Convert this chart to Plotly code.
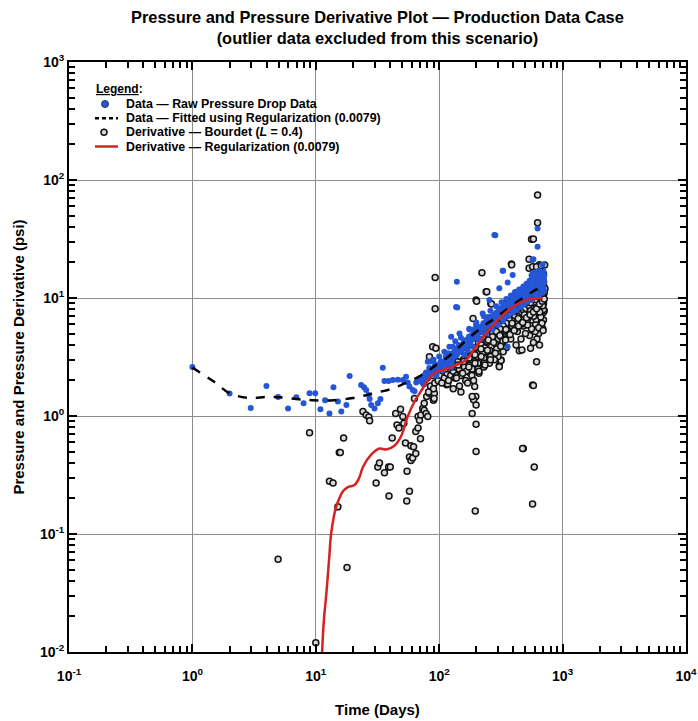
import plotly.graph_objects as go

# ---------------- data ----------------
# Raw pressure drop data (blue) – sparse early / outlying points
blue_t1 = [1.0, 2.0, 2.97, 3.98, 4.95, 5.96, 6.95, 7.96, 8.9, 9.9, 10.9, 11.9, 12.9, 13.9, 15.1,
           16.1, 17.7, 18.8, 23.3, 24.6, 25.6, 26.9, 27.3, 28.1, 29.9, 31.8, 33.4, 34.9, 36.0,
           38.9, 42.1, 46.2, 50.7, 53.9, 55.6, 57.4, 61.1, 63.1, 65.2, 69.2, 73.5, 78.3, 80.8,
           84.8, 91.4, 97.3, 100, 107, 113, 121, 125, 129, 137, 139, 140, 146, 165, 176, 199,
           225, 255, 280, 285, 307, 327, 330, 359, 359, 394, 419, 571, 571, 580, 627, 627, 688]
blue_p1 = [2.6, 1.55, 1.17, 1.8, 1.45, 1.16, 1.44, 1.28, 1.56, 1.56, 1.14, 1.36, 1.05, 1.75, 1.33,
           1.09, 1.24, 2.18, 1.83, 1.75, 1.66, 1.51, 1.39, 1.24, 1.16, 1.28, 1.39, 2.57, 1.98,
           1.98, 2.02, 2.03, 2.02, 2.15, 1.92, 1.78, 1.66, 1.62, 1.92, 2.02, 2.15, 2.34, 2.88,
           2.45, 2.61, 2.4, 2.55, 2.45, 3.18, 3.87, 4.7, 3.87, 8.4, 13.7, 8.3, 5.0, 4.4, 5.4, 5.9,
           7.4, 9.6, 34.2, 34.0, 12.1, 17.0, 17.0, 13.5, 3.87, 15.7, 11.3, 21.0, 16.2, 21.3, 27.2,
           38.9, 19.1]
# Raw pressure drop data (blue) – dense band
blue_t2 = [70, 72, 75, 77, 80, 82, 84, 86, 88, 90, 92, 95, 97, 99, 102, 104, 106, 108, 110, 112,
           115, 117, 120, 122, 125, 127, 130, 133, 136, 139, 142, 145, 148, 151, 155, 158, 162,
           165, 169, 172, 176, 180, 184, 188, 192, 196, 200, 205, 210, 215, 220, 225, 230, 236,
           242, 248, 254, 260, 266, 272, 279, 286, 293, 300, 307, 315, 323, 331, 339, 347, 355,
           364, 373, 382, 391, 400, 410, 420, 430, 440, 450, 461, 472, 483, 494, 506, 518, 530,
           542, 555, 568, 581, 595, 609, 623, 637, 651, 665, 680, 695, 705]
blue_p2 = [2.1, 1.95, 2.2, 2.05, 2.3, 2.15, 2.4, 2.25, 2.5, 2.35, 2.6, 2.45, 2.7, 2.5, 2.65, 2.55,
           2.8, 2.6, 2.9, 2.7, 3.0, 2.8, 3.1, 2.9, 3.3, 3.0, 3.4, 3.2, 3.6, 3.3, 3.7, 3.5, 3.9,
           3.6, 4.0, 3.8, 4.2, 3.9, 4.4, 4.1, 4.6, 4.3, 4.8, 4.5, 5.0, 4.7, 5.2, 4.9, 5.4, 5.1,
           5.7, 5.3, 5.9, 5.6, 6.2, 5.8, 6.5, 6.1, 6.7, 6.3, 7.0, 6.6, 7.3, 6.8, 7.6, 7.1, 7.9,
           7.4, 8.3, 7.7, 8.6, 8.0, 9.0, 8.3, 9.3, 8.6, 9.6, 8.9, 10.0, 9.2, 10.4, 9.6, 10.8, 9.9,
           11.2, 10.3, 11.6, 10.7, 12.0, 11.0, 12.4, 11.4, 12.8, 11.8, 13.2, 12.2, 13.6, 12.6,
           14.0, 13.0, 14.5]
blue_t3 = [90, 100, 110, 125, 135, 150, 160, 175, 185, 200, 210, 230, 240, 260, 270, 290, 300,
           320, 330, 350, 360, 380, 395, 410, 425, 445, 460, 480, 490, 510, 520, 540, 560, 580,
           600, 620, 640, 660, 680, 700, 690, 670, 650, 630, 700, 710, 710, 705,
           75, 85, 95, 105, 118, 128, 145, 170, 190, 215, 250, 275, 310, 340, 370, 405, 435,
           465, 500, 535, 570, 610, 645, 675]
blue_p3 = [3.0, 3.2, 3.5, 2.6, 4.3, 4.6, 3.3, 5.5, 3.9, 6.2, 4.4, 7.0, 5.0, 7.8, 5.4, 8.5, 5.9,
           9.2, 6.4, 9.8, 7.0, 10.5, 7.5, 11.2, 7.9, 11.8, 8.4, 12.5, 8.9, 13.2, 9.3, 14.0, 9.6,
           14.8, 10.2, 15.5, 10.6, 16.2, 11.0, 16.8, 15.0, 14.5, 14.8, 13.8, 12.0, 13.5, 15.5, 11.5,
           1.85, 2.9, 2.2, 2.9, 3.4, 2.7, 4.0, 3.6, 5.4, 4.5, 6.9, 5.9, 8.2, 6.9, 9.3, 8.0, 10.8,
           8.8, 12.0, 10.0, 13.0, 10.9, 14.2, 12.3]
blue_t4 = [78, 83, 87, 93, 98, 103, 109, 114, 119, 124, 131, 138, 144, 152, 159, 167, 174, 182,
           191, 198, 207, 218, 228, 239, 251, 263, 276, 289, 303, 318, 333, 349, 366, 384, 402,
           421, 441, 462, 484, 507, 531, 556, 582, 609, 637, 666, 696, 640, 600, 560]
blue_p4 = [2.3, 2.55, 2.3, 2.75, 2.6, 2.9, 2.7, 3.1, 2.95, 3.35, 3.45, 3.5, 3.9, 3.95, 4.3, 4.35,
           4.7, 4.8, 5.1, 5.3, 5.5, 5.7, 6.1, 6.3, 6.6, 6.9, 7.1, 7.5, 7.8, 8.1, 8.5, 8.8, 9.2,
           9.4, 9.9, 10.1, 10.6, 10.9, 11.3, 11.7, 12.0, 12.5, 12.9, 13.3, 13.8, 14.2, 14.6,
           17.0, 16.5, 15.5]

# Fitted pressure (black dashed)
fit_t = [1, 1.5, 2, 2.9, 4, 5.1, 7, 9.5, 14, 20, 26, 33, 42, 52, 65, 80, 94, 115, 137,
         170, 225, 280, 348, 450, 571, 710]
fit_p = [2.57, 1.95, 1.56, 1.42, 1.45, 1.44, 1.39, 1.36, 1.36, 1.42, 1.51, 1.6, 1.71, 1.88,
         2.09, 2.38, 2.7, 3.1, 3.63, 4.5, 5.7, 6.7, 7.9, 9.6, 11.3, 12.9]

# Bourdet derivative (open circles) – sparse / outlying
bour_t1 = [4.95, 8.9, 10.0, 12.9, 13.8, 15.1, 15.5, 15.8, 16.8, 17.9, 24.1, 25.6, 26.9, 27.3,
           30.8, 31.8, 32.8, 36.0, 38.9, 40.1, 39.2, 41.6, 44.4, 45.5, 47.2, 48.6, 50.7, 51.7,
           53.3, 54.9, 54.6, 57.4, 57.4, 59.0, 61.0, 64.6, 59.0, 62.0, 64.6, 67.4, 70.5, 63.0,
           67.4, 69.2, 71.0, 73.5, 75.6, 78.3, 80.8, 75.6, 79.2, 83.3, 89.8, 91.4,
           92.7, 92.7, 88.5, 94.0, 83.3, 91.0, 117, 115, 141, 160, 165, 176, 182, 188, 180,
           188, 194, 198, 190, 199, 185, 199, 222, 199, 188, 233, 240, 247, 240, 262, 307, 317,
           384, 446, 468, 480, 571, 615, 627, 560, 648, 535, 535, 199, 196, 474, 589, 571, 580,
           185, 117, 143, 307, 317, 550, 627, 580, 387, 243, 201, 265, 571, 615, 673, 715,
           75, 80, 85, 88, 92, 96, 82, 90]
bour_p1 = [0.061, 0.72, 0.012, 0.28, 0.27, 0.17, 0.49, 0.49, 0.65, 0.052, 1.09, 1.02, 0.98, 0.91,
           0.27, 0.37, 0.40, 0.33, 0.37, 0.37, 0.21, 0.65, 1.05, 0.84, 0.79, 1.14, 0.99, 0.87,
           0.59, 0.34, 0.19, 0.23, 0.45, 0.42, 0.44, 0.48, 0.56, 0.55, 0.74, 0.79, 0.64, 1.41,
           0.99, 0.92, 1.02, 1.16, 1.12, 1.05, 0.99, 1.28, 1.46, 1.56, 1.36, 1.56,
           14.9, 8.1, 3.87, 3.75, 3.18, 1.41, 1.92, 1.84, 2.4, 2.7, 2.98, 2.34, 2.28, 2.45, 2.55,
           2.02, 1.78, 1.46, 1.37, 1.24, 1.05, 0.85, 16.4, 9.6, 6.7, 4.0, 3.5, 3.18, 11.3, 9.0,
           2.66, 2.98, 19.4, 3.57, 3.63, 0.53, 1.83, 2.88, 43.4, 31.4, 19.1, 21.3, 17.9, 0.50,
           0.157, 0.53, 0.37, 0.18, 1.81,
           1.46, 1.87, 2.45, 2.61, 2.95, 3.75, 74.6, 31.6, 19.1, 11.3, 9.4, 8.9, 18.4, 18.4,
           18.8, 19.0,
           1.9, 2.1, 1.8, 2.2, 1.9, 2.4, 1.6, 1.7]
# Bourdet derivative – dense band
bour_t2 = [95, 98, 100, 103, 105, 108, 110, 113, 116, 118, 121, 124, 127, 130, 133, 136, 139,
           142, 145, 148, 151, 154, 157, 160, 163, 166, 170, 173, 176, 180, 184, 188, 192, 196,
           200, 204, 208, 212, 216, 220, 225, 230, 235, 240, 245, 250, 256, 262, 268, 274, 280,
           287, 294, 301, 308, 315, 322, 330, 338, 346, 354, 362, 370, 379, 388, 397, 406, 416,
           426, 436, 446, 457, 468, 479, 490, 502, 514, 526, 538, 551, 564, 577, 590, 604, 618,
           632, 646, 660, 675, 690, 705, 700, 695, 685, 710, 640, 620, 600, 580, 560, 650, 670,
           690, 700, 540, 500, 460, 430, 420, 380, 350, 330, 300, 280, 255, 230, 210]
bour_p2 = [2.3, 2.0, 2.6, 2.2, 2.8, 2.4, 2.1, 2.7, 2.3, 2.9, 2.5, 2.2, 2.8, 2.4, 3.0, 2.6, 2.2,
           2.9, 2.5, 3.2, 2.7, 2.3, 3.0, 2.6, 3.4, 2.9, 2.4, 3.2, 2.7, 3.6, 3.0, 2.6, 3.4, 2.9,
           3.8, 3.2, 4.2, 3.5, 2.9, 4.0, 3.4, 4.5, 3.8, 5.0, 4.2, 3.5, 4.8, 5.4, 4.4, 5.9, 4.9,
           6.3, 5.3, 4.5, 6.0, 6.8, 5.6, 7.2, 6.2, 5.0, 6.8, 7.6, 6.0, 8.0, 7.0, 5.5, 7.6, 8.6,
           6.5, 8.2, 9.2, 7.0, 8.8, 5.8, 9.6, 7.8, 10.2, 6.6, 8.5, 10.8, 7.2, 9.0, 11.4, 6.0, 8.0,
           9.8, 12.0, 7.0, 8.8, 10.5, 12.5, 9.0, 7.5, 11.5, 11.0, 5.0, 4.5, 5.2, 4.2, 5.5, 4.0,
           6.0, 5.5, 6.5, 4.8, 5.0, 4.5, 5.2, 4.0, 4.5, 3.8, 3.5, 3.2, 3.0, 2.8, 2.6, 2.3]
bour_t3 = [120, 140, 170, 200, 230, 260, 290, 320, 350, 380, 410, 440, 470, 500, 530, 560, 590,
           620, 650, 680, 700, 600, 660, 700, 720,
           500, 530, 560, 590, 620, 650, 680, 710, 450, 480, 520, 610, 640, 665, 695]
bour_p3 = [3.3, 3.6, 4.0, 4.6, 5.5, 6.5, 7.2, 8.0, 8.8, 9.5, 10.0, 10.6, 11.2, 11.8, 12.4, 13.0,
           13.6, 14.2, 14.8, 15.4, 16.0, 12.5, 12.8, 13.8, 12.0,
           6.2, 7.0, 6.5, 7.6, 6.8, 7.3, 6.1, 7.8, 6.0, 6.4, 5.9, 6.6, 5.6, 6.9, 5.3]
bour_t4 = [105, 112, 119, 126, 134, 142, 150, 158, 166, 175, 185, 195, 206, 218, 230, 243, 256,
           270, 285, 300, 316, 333, 351, 370, 390, 411, 433, 456, 480, 505, 532, 560, 590, 620,
           652, 685, 700, 690, 670, 650, 630, 610, 590, 570, 550, 530, 510, 490, 470, 450, 430,
           410, 390, 370, 350, 330, 310, 290, 270, 250]
bour_p4 = [1.9, 2.5, 2.0, 2.6, 2.1, 2.7, 2.2, 2.9, 2.4, 3.1, 2.5, 3.3, 2.8, 3.7, 3.1, 4.3, 3.6,
           5.0, 4.1, 5.6, 4.7, 6.3, 5.2, 7.1, 5.8, 7.6, 6.3, 8.3, 6.8, 8.9, 7.4, 9.5, 7.9, 10.1,
           8.5, 10.6, 8.0, 9.5, 10.0, 9.0, 8.4, 9.2, 8.7, 8.1, 9.1, 8.2, 7.6, 8.0, 7.5, 7.2, 7.0,
           6.9, 6.4, 6.5, 6.1, 5.8, 5.5, 5.2, 4.7, 4.4]
bour_t5 = [130, 138, 146, 155, 164, 174, 184, 195, 207, 219, 232, 246, 261, 276, 292, 310, 328,
           347, 368, 390, 413, 437, 463, 490, 519, 550, 582, 616, 652, 690,
           150, 170, 190, 210, 235, 260, 285, 315, 345, 375, 405, 440, 475, 510, 545, 580, 615,
           650, 685, 710]
bour_p5 = [1.7, 2.1, 1.8, 2.3, 2.0, 2.6, 2.2, 2.8, 2.5, 3.2, 2.8, 3.6, 3.2, 4.2, 3.7, 4.8, 4.3,
           5.4, 4.9, 6.1, 5.5, 6.7, 6.0, 7.2, 6.6, 7.8, 7.0, 8.3, 7.6, 8.6,
           1.6, 1.9, 2.0, 2.4, 2.7, 3.0, 3.4, 3.9, 4.4, 4.9, 5.3, 5.8, 6.2, 6.8, 7.2, 7.6, 8.1,
           8.9, 9.4, 9.8]

# Regularization derivative (red)
reg_t = [11.2, 11.6, 12.2, 12.8, 13.3, 14.0, 14.6, 15.5, 16.6, 18.2, 20.6, 22.5, 24.1, 28.1,
         32.8, 37.2, 43.4, 49, 55.6, 63, 73.5, 83.3, 97.3, 107, 120, 137, 165, 199, 240, 307,
         394, 505, 600, 690]
reg_p = [0.009, 0.018, 0.032, 0.06, 0.1, 0.14, 0.17, 0.20, 0.23, 0.25, 0.26, 0.30, 0.37, 0.47,
         0.53, 0.52, 0.56, 0.67, 0.99, 1.32, 1.71, 2.09, 2.4, 2.45, 2.55, 2.7, 2.98, 3.87, 5.0,
         6.7, 8.4, 9.6, 9.9, 10.0]

x_ticks = [0.1, 1, 10, 100, 1000, 10000]
x_labels = ["10<sup>-1</sup>", "10<sup>0</sup>", "10<sup>1</sup>", "10<sup>2</sup>",
            "10<sup>3</sup>", "10<sup>4</sup>"]
y_ticks = [0.01, 0.1, 1, 10, 100, 1000]
y_labels = ["10<sup>-2</sup>", "10<sup>-1</sup>", "10<sup>0</sup>", "10<sup>1</sup>",
            "10<sup>2</sup>", "10<sup>3</sup>"]

legend_labels = ["Data — Raw Pressure Drop Data",
                 "Data — Fitted using Regularization (0.0079)",
                 "Derivative — Bourdet (<i>L</i> = 0.4)",
                 "Derivative — Regularization (0.0079)"]

for a, b in [(blue_t1, blue_p1), (blue_t2, blue_p2), (blue_t3, blue_p3), (blue_t4, blue_p4),
             (bour_t1, bour_p1), (bour_t2, bour_p2), (bour_t3, bour_p3), (bour_t4, bour_p4),
             (bour_t5, bour_p5), (fit_t, fit_p), (reg_t, reg_p)]:
    assert len(a) == len(b), (len(a), len(b))

blue_t = blue_t1 + blue_t2 + blue_t3 + blue_t4
blue_p = blue_p1 + blue_p2 + blue_p3 + blue_p4
bour_t = bour_t1 + bour_t2 + bour_t3 + bour_t4 + bour_t5
bour_p = bour_p1 + bour_p2 + bour_p3 + bour_p4 + bour_p5

FONT = "Liberation Sans, Arial, sans-serif"
BLUE = "#2456d6"
RED = "#d62222"

# plot-area geometry in pixels (for the hand-built legend)
W, H = 698, 721
ML, MR, MT, MB = 69, 12, 62, 69
PW, PH = W - ML - MR, H - MT - MB


def px(x):
    return (x - ML) / PW


def py(y):
    return (H - MB - y) / PH


fig = go.Figure()
fig.add_trace(go.Scatter(
    x=bour_t, y=bour_p, mode="markers", name=legend_labels[2], showlegend=False,
    marker=dict(symbol="circle", size=6, color="#d9d9d9", line=dict(color="#111111", width=1.5))))
fig.add_trace(go.Scatter(
    x=blue_t, y=blue_p, mode="markers", name=legend_labels[0], showlegend=False,
    marker=dict(symbol="circle", size=6, color=BLUE, line=dict(width=0))))
fig.add_trace(go.Scatter(
    x=fit_t, y=fit_p, mode="lines", name=legend_labels[1], showlegend=False,
    line=dict(color="black", width=2.5, dash="dash", shape="spline")))
fig.add_trace(go.Scatter(
    x=reg_t, y=reg_p, mode="lines", name=legend_labels[3], showlegend=False,
    line=dict(color=RED, width=2.5, shape="spline")))

axis_common = dict(
    type="log", showline=True, linecolor="black", linewidth=2, mirror="allticks",
    ticks="inside", ticklen=8, tickwidth=2, tickcolor="black", automargin=False,
    showgrid=True, gridcolor="#8c8c8c", gridwidth=1, zeroline=False,
    tickfont=dict(family=FONT, size=14, color="black", weight="bold"),
    minor=dict(ticks="inside", ticklen=6, tickwidth=2, tickcolor="black", showgrid=False,
               tickvals=[m * 10 ** e for e in range(-2, 4) for m in range(2, 10)]),
)

fig.update_xaxes(**axis_common, range=[-1, 4], tickmode="array", tickvals=x_ticks,
                 ticktext=x_labels, ticklabelstandoff=10,
                 title=dict(text="<b>Time (Days)</b>", font=dict(family=FONT, size=15, color="black"),
                            standoff=22))
fig.update_yaxes(**axis_common, range=[-2, 3], tickmode="array", tickvals=y_ticks,
                 ticktext=y_labels,
                 title=dict(text="<b>Pressure and Pressure Derivative (psi)</b>",
                            font=dict(family=FONT, size=15, color="black"), standoff=12))

annotations = [
    dict(text="<b>Pressure and Pressure Derivative Plot — Production Data Case<br>"
              "(outlier data excluded from this scenario)</b>",
         xref="paper", yref="paper", x=0.5, y=py(6), xanchor="center", yanchor="top",
         showarrow=False, font=dict(family=FONT, size=16.4, color="black")),
    dict(text="<b><u>Legend</u>:</b>", xref="paper", yref="paper", x=px(94), y=py(89),
         xanchor="left", yanchor="middle", showarrow=False,
         font=dict(family=FONT, size=12, color="black")),
]
legend_y = [104, 118.3, 132.3, 146.5]
for lab, yy in zip(legend_labels, legend_y):
    annotations.append(dict(text="<b>" + lab + "</b>", xref="paper", yref="paper",
                            x=px(124), y=py(yy), xanchor="left", yanchor="middle",
                            showarrow=False, font=dict(family=FONT, size=12.4, color="black")))

shapes = [
    # blue data symbol
    dict(type="circle", xref="paper", yref="paper", xsizemode="pixel", ysizemode="pixel",
         xanchor=px(105), yanchor=py(legend_y[0]), x0=-3.5, x1=3.5, y0=-3.5, y1=3.5,
         fillcolor=BLUE, line=dict(color="#333366", width=1)),
    # dashed fit symbol
    dict(type="line", xref="paper", yref="paper", x0=px(95), x1=px(118),
         y0=py(legend_y[1]), y1=py(legend_y[1]), line=dict(color="black", width=2.5, dash="4px,3px")),
    # bourdet symbol
    dict(type="circle", xref="paper", yref="paper", xsizemode="pixel", ysizemode="pixel",
         xanchor=px(104), yanchor=py(legend_y[2]), x0=-3, x1=3, y0=-3, y1=3,
         fillcolor="#d9d9d9", line=dict(color="#111111", width=1.5)),
    # red line symbol
    dict(type="line", xref="paper", yref="paper", x0=px(95), x1=px(118),
         y0=py(legend_y[3]), y1=py(legend_y[3]), line=dict(color=RED, width=2.5)),
]

fig.update_layout(
    width=W, height=H,
    margin=dict(l=ML, r=MR, t=MT, b=MB),
    paper_bgcolor="white", plot_bgcolor="white",
    showlegend=False,
    annotations=annotations,
    shapes=shapes,
)

fig.write_html("out.html")
